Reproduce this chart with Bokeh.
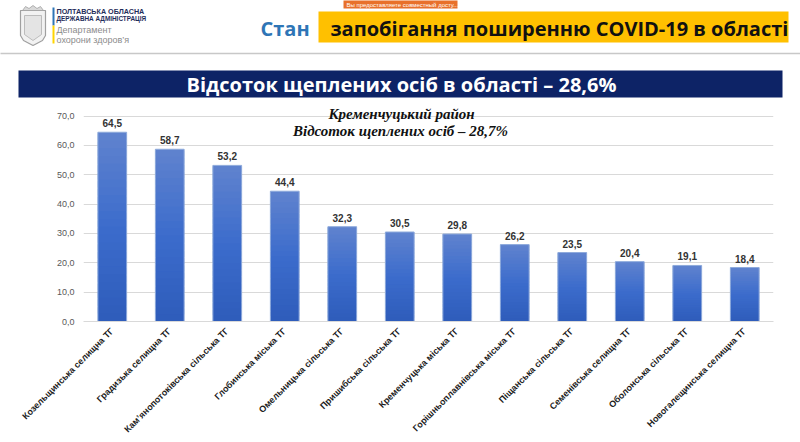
import math
import numpy as np
from bokeh.plotting import figure
from bokeh.models import (ColumnDataSource, Range1d, FactorRange, FixedTicker,
                          CustomJSTickFormatter, Label, LabelSet)
from bokeh.embed import file_html
from bokeh.resources import INLINE
from bokeh.core.properties import value

# ---------------- data ----------------
categories = [
    "Козельщинська селищна ТГ",
    "Градизька селищна ТГ",
    "Кам’янопотоківська сільська ТГ",
    "Глобинська міська ТГ",
    "Омельницька сільська ТГ",
    "Пришибська сільська ТГ",
    "Кременчуцька міська ТГ",
    "Горішньоплавнівська міська ТГ",
    "Піщанська сільська ТГ",
    "Семенівська селищна ТГ",
    "Оболонська сільська ТГ",
    "Новогалещинська селищна ТГ",
]
values = [64.5, 58.7, 53.2, 44.4, 32.3, 30.5, 29.8, 26.2, 23.5, 20.4, 19.1, 18.4]
y_ticks = [0, 10, 20, 30, 40, 50, 60, 70]

header_left_1 = "ПОЛТАВСЬКА ОБЛАСНА"
header_left_2 = "ДЕРЖАВНА АДМІНІСТРАЦІЯ"
header_left_3 = "Департамент"
header_left_4 = "охорони здоров’я"
header_word = "Стан"
header_banner = "запобігання поширенню COVID-19 в області"
share_note = "Вы предоставляете совместный досту..."
title_text = "Відсоток щеплених осіб в області – 28,6%"
subtitle_1 = "Кременчуцький район"
subtitle_2 = "Відсоток щеплених осіб – 28,7%"

W, H = 800, 442
FL, FR, FT, FB = 83, 773, 98, 321   # frame box in page pixels
NCAT = len(categories)


def fx(px):
    """page pixel x -> synthetic categorical coordinate"""
    if isinstance(px, (list, tuple)):
        return [fx(v) for v in px]
    return (px - FL) / (FR - FL) * NCAT


p = figure(width=W, height=H, x_range=FactorRange(*categories), y_range=Range1d(0, 76),
           output_backend="svg", toolbar_location=None,
           min_border_left=FL, min_border_right=W - FR,
           min_border_top=FT, min_border_bottom=H - FB)
p.outline_line_color = None
p.background_fill_color = "white"
p.border_fill_color = "white"
p.xgrid.visible = False
p.ygrid.grid_line_color = "#d9d9d9"
p.ygrid.grid_line_width = 1

# pixel y range for the slide decoration around the chart
p.extra_y_ranges = {"py": Range1d(FB, FT)}
PX = dict(y_range_name="py", level="overlay")


def htext(x, y, txt, size, color, font="Open Sans", style="bold", align="left"):
    p.text(x=[fx(x)], y=[y], text=[txt], text_font=value(font), text_font_size=value(size),
           text_font_style=value(style), text_color=color, text_align=align,
           text_baseline="middle", **PX)


# ---------------- slide header ----------------
# coat of arms (simplified shield)
p.patch(fx([20, 45, 45, 42, 32.5, 23, 20]), [10, 10, 35, 40, 45, 40, 35],
        fill_color="#f2f2f2", line_color="#a0a0a0", line_width=1.2, **PX)
p.patch(fx([24, 41, 41, 32.5, 24]), [15, 15, 34, 40, 34],
        fill_color="#e4e4e4", line_color="#b0b0b0", line_width=0.8, **PX)
p.patch(fx([22, 25, 28.5, 32.5, 36.5, 40, 43, 43, 22]), [10, 6, 8, 5, 8, 6, 10, 10, 10],
        fill_color="#d9d9d9", line_color="#a0a0a0", line_width=0.8, **PX)
# flag line
p.segment(x0=fx([53]), y0=[7], x1=fx([53]), y1=[25], line_color="#2e75b6", line_width=2, **PX)
p.segment(x0=fx([53]), y0=[25], x1=fx([53]), y1=[43], line_color="#ffd500", line_width=2, **PX)

htext(56, 11, header_left_1, "7.2px", "#1f2d5a", "Liberation Sans", "bold")
htext(56, 18, header_left_2, "6.4px", "#1f2d5a", "Liberation Sans", "bold")
htext(56, 29, header_left_3, "9px", "#8c8c8c", "Liberation Sans", "normal")
htext(56, 39, header_left_4, "9px", "#8c8c8c", "Liberation Sans", "normal")

# grey separator
p.segment(x0=fx([0]), y0=[53], x1=fx([W]), y1=[53], line_color="#c8c8c8", line_width=1.5, **PX)

# orange sharing note
p.quad(left=fx([343]), right=fx([457]), top=[0], bottom=[8], fill_color="#e8702a",
       line_color=None, **PX)
htext(346, 4, share_note, "6px", "white", "Liberation Sans", "normal")

# yellow banner
p.quad(left=fx([318]), right=fx([788]), top=[11], bottom=[42], fill_color="#FFC000",
       line_color=None, **PX)
htext(260, 28, header_word, "20px", "#2e75b6")
htext(330, 28, header_banner, "20px", "#111111")

# navy title bar
p.quad(left=fx([18]), right=fx([782]), top=[70], bottom=[97], fill_color="#0d2366",
       line_color=None, **PX)
htext(401, 84, title_text, "20px", "white", align="center")

# ---------------- chart ----------------
# gradient bars: overlapping stacked slices of each bar
n = 24
stops_t = [0.0, 0.5, 1.0]
stops_c = [(46, 92, 186), (60, 108, 204), (96, 131, 206)]
xs, bots, tops, cols = [], [], [], []
for c, v in zip(categories, values):
    for k in range(n):
        t = (k + 0.5) / n
        rgb = [int(round(np.interp(t, stops_t, [s[i] for s in stops_c]))) for i in range(3)]
        xs.append(c)
        bots.append(v * k / n)
        tops.append(v * min(k + 1.8, n) / n)
        cols.append("#%02x%02x%02x" % tuple(rgb))
seg = ColumnDataSource(dict(x=xs, bottom=bots, top=tops, color=cols))
p.vbar(x="x", bottom="bottom", top="top", width=0.5, source=seg,
       fill_color="color", line_color=None)

src = ColumnDataSource(dict(cat=categories, val=values,
                            lbl=[("%.1f" % v).replace(".", ",") for v in values]))
p.vbar(x="cat", top="val", width=0.5, source=src, fill_color=None,
       line_color="#8eaadb", line_width=1)

p.add_layout(LabelSet(x="cat", y="val", text="lbl", source=src, text_align="center",
                      text_baseline="bottom", y_offset=5, text_font_size="10px",
                      text_font_style="bold", text_color="#333333",
                      text_font=value("Liberation Sans")))

# subtitle
p.add_layout(Label(x=fx(401), y=113, text=subtitle_1, text_align="center", text_baseline="middle",
                   text_font="Liberation Serif", text_font_style="bold italic",
                   text_font_size="15px", text_color="#111111", y_range_name="py"))
p.add_layout(Label(x=fx(400), y=130, text=subtitle_2, text_align="center", text_baseline="middle",
                   text_font="Liberation Serif", text_font_style="bold italic",
                   text_font_size="15px", text_color="#111111", y_range_name="py"))

# axes
p.yaxis.ticker = FixedTicker(ticks=y_ticks)
p.yaxis.formatter = CustomJSTickFormatter(code="return tick.toFixed(1).replace('.', ',');")
p.yaxis.axis_line_color = None
p.yaxis.major_tick_line_color = None
p.yaxis.minor_tick_line_color = None
p.yaxis.major_tick_out = 0
p.yaxis.major_tick_in = 0
p.yaxis.major_label_standoff = 9
p.yaxis.major_label_text_font = "Liberation Sans"
p.yaxis.major_label_text_font_size = "9px"
p.yaxis.major_label_text_color = "#595959"

p.xaxis.axis_line_color = "#d9d9d9"
p.xaxis.major_tick_line_color = None
p.xaxis.minor_tick_line_color = None
p.xaxis.major_tick_out = 0
p.xaxis.major_tick_in = 0
p.xaxis.major_label_orientation = math.pi / 4
p.xaxis.major_label_standoff = 8
p.xaxis.major_label_text_font = "Liberation Sans"
p.xaxis.major_label_text_font_size = "9px"
p.xaxis.major_label_text_font_style = "bold"
p.xaxis.major_label_text_color = "#1a1a1a"

open("out.html", "w").write(file_html(p, INLINE))
